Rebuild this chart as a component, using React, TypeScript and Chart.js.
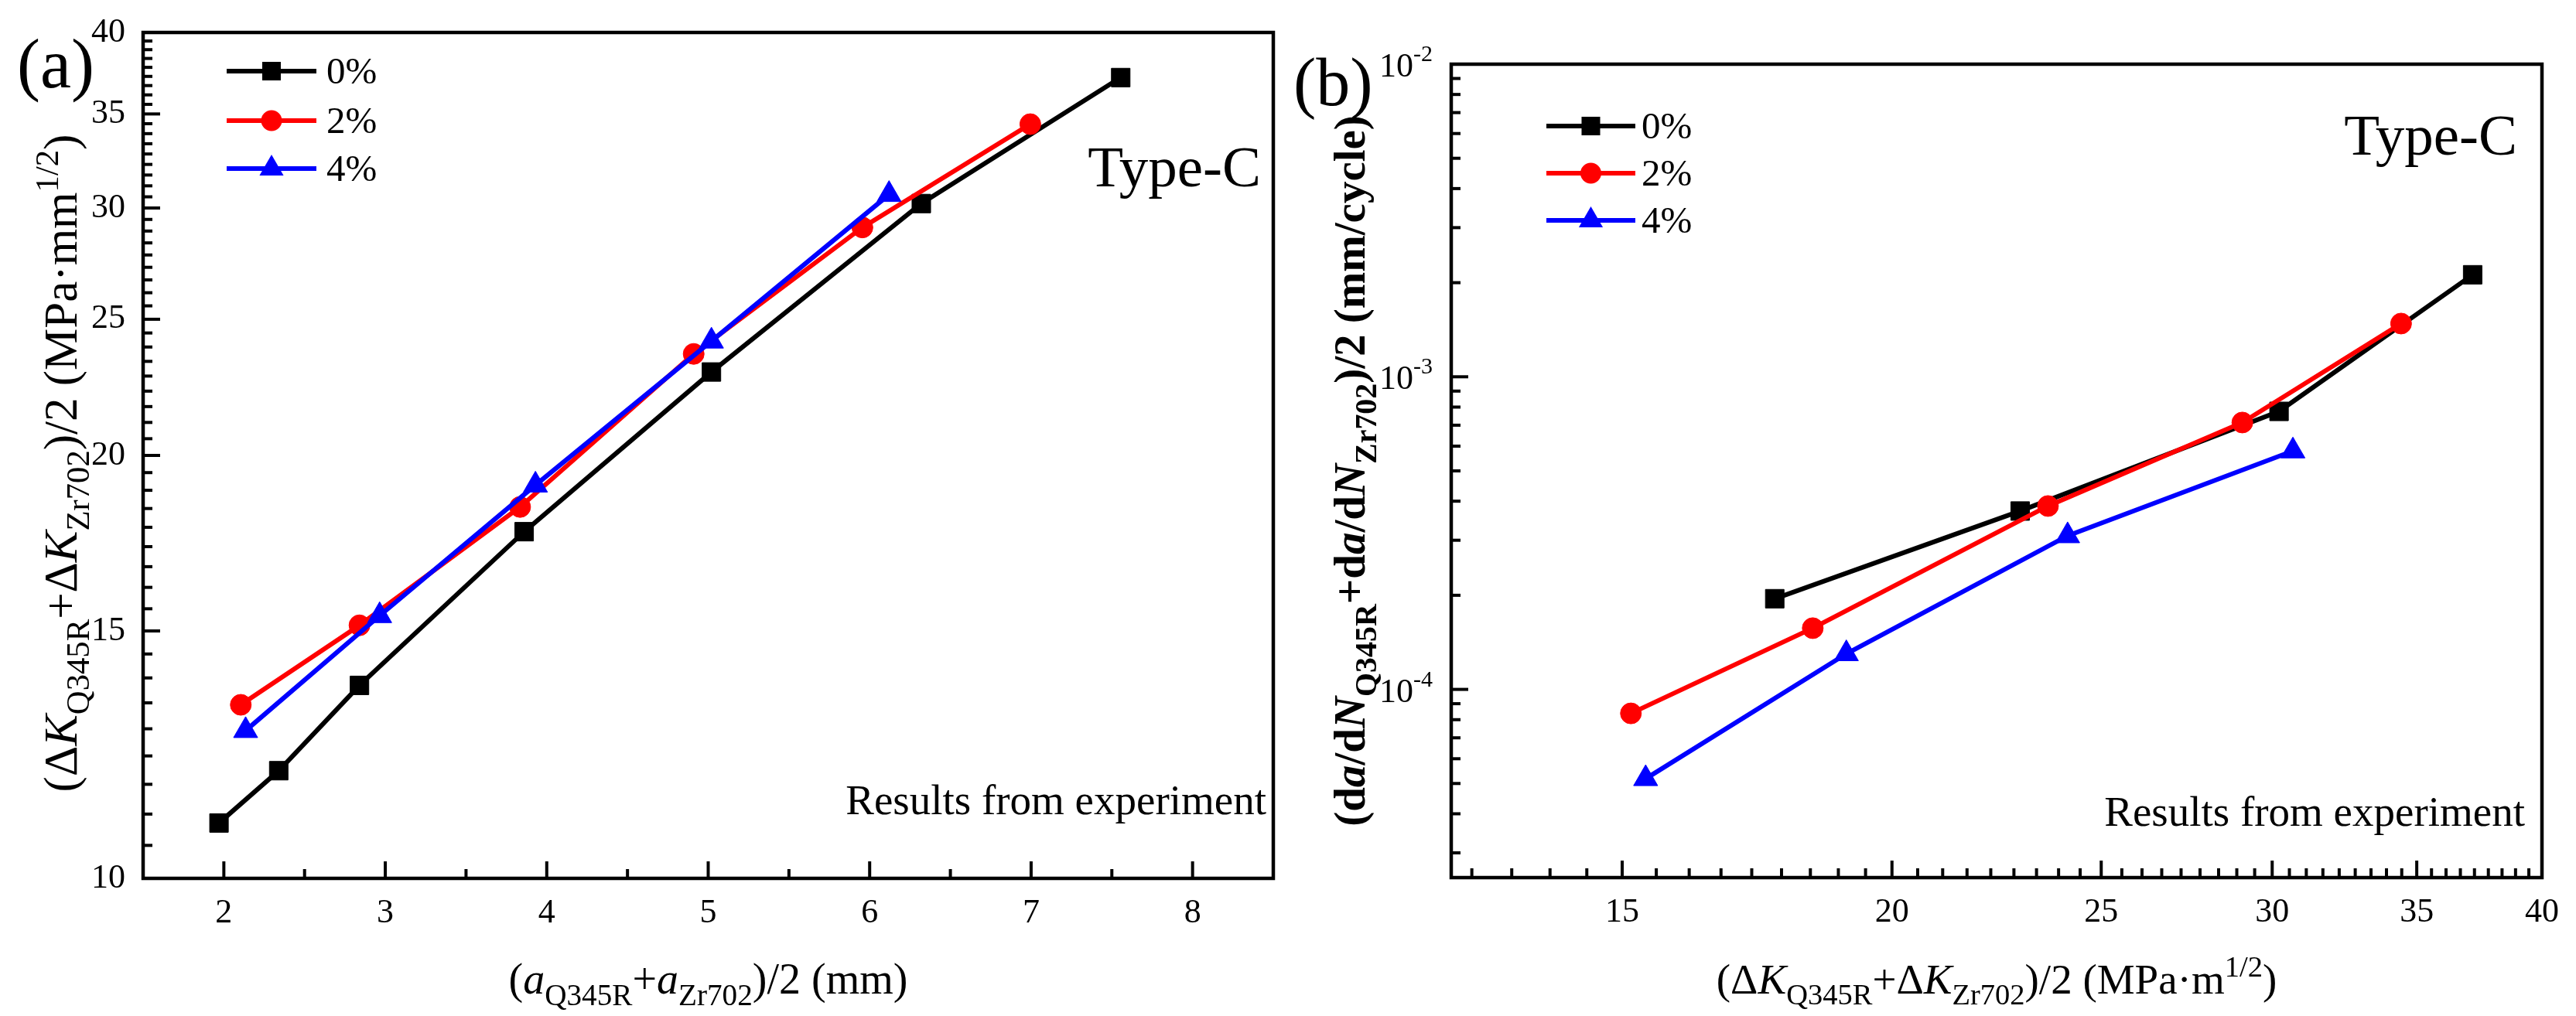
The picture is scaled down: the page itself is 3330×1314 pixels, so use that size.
import { useEffect, useRef } from "react";
import { Chart, registerables } from "chart.js";

Chart.register(...registerables);

const FONT = '"Liberation Serif", "Times New Roman", serif';

// ---------- series meta ----------
const seriesLabels = ["0%", "2%", "4%"];
const seriesColors = ["#000000", "#ff0000", "#0000ff"];
const seriesMarkers = ["rect", "circle", "triangle"];
const markerRadius = [17, 13.5, 18];

// ---------- panel (a): crack length vs. mean ΔK ----------
const aX0 = [1.97, 2.34, 2.84, 3.86, 5.02, 6.32, 7.555];
const aY0 = [10.95, 11.93, 13.72, 17.65, 22.93, 30.22, 37.15];
const aX2 = [2.105, 2.84, 3.835, 4.91, 5.955, 6.995];
const aY2 = [13.29, 15.14, 18.38, 23.62, 29.06, 34.42];
const aX4 = [2.135, 2.965, 3.93, 5.02, 6.12];
const aY4 = [12.74, 15.38, 19.05, 24.12, 30.67];

// ---------- panel (b): mean ΔK vs. mean da/dN ----------
const bX0 = [17.65, 22.93, 30.22, 37.15];
const bY0 = [1.95e-4, 3.72e-4, 7.75e-4, 2.12e-3];
const bX2 = [15.14, 18.38, 23.62, 29.06, 34.42];
const bY2 = [8.38e-5, 1.57e-4, 3.86e-4, 7.14e-4, 1.48e-3];
const bX4 = [15.38, 19.05, 24.12, 30.67];
const bY4 = [5.18e-5, 1.3e-4, 3.1e-4, 5.79e-4];

// ---------- axes ----------
const aXRange = [1.5, 8.5];
const aYRange = [10, 40];
const bXRange = [12.5, 40];
const bYRange = [2.5e-5, 1e-2];
const aXTickLabels = [2, 3, 4, 5, 6, 7, 8];
const aXMinorTicks = [2.5, 3.5, 4.5, 5.5, 6.5, 7.5];
const aYTickLabels = [10, 15, 20, 25, 30, 35, 40];
const bXTickLabels = [15, 20, 25, 30, 35, 40];
const bYTickExponents = [-4, -3, -2];

// Origin-style minor ticks: 8 minors between labelled ticks 5 apart
function ninthMinors(lo: number, hi: number): number[] {
  const out: number[] = [];
  for (let k = 0; k < 100; k++) {
    if (k % 9 === 0) continue;
    const v = 10 + (k * 5) / 9;
    if (v > lo + 1e-6 && v < hi - 1e-6) out.push(v);
  }
  return out;
}
function logMinors(lo: number, hi: number): number[] {
  const out: number[] = [];
  for (let e = -6; e <= -2; e++) {
    for (let m = 2; m <= 9; m++) {
      const v = m * Math.pow(10, e);
      if (v > lo * 1.0001 && v < hi * 0.9999) out.push(v);
    }
  }
  return out;
}

type Seg = { t: string; it?: boolean; sub?: boolean; sup?: boolean };

function segFont(s: Seg, size: number, bold: boolean) {
  const sz = s.sub || s.sup ? size * 0.7 : size;
  return `${s.it ? "italic " : ""}${bold ? "bold " : ""}${sz}px ${FONT}`;
}

function drawRich(
  ctx: CanvasRenderingContext2D,
  segs: Seg[],
  cx: number,
  cy: number,
  size: number,
  bold: boolean,
  rotate: boolean
) {
  ctx.save();
  ctx.translate(cx, cy);
  if (rotate) ctx.rotate(-Math.PI / 2);
  let total = 0;
  for (const s of segs) {
    ctx.font = segFont(s, size, bold);
    total += ctx.measureText(s.t).width;
  }
  let x = -total / 2;
  ctx.textAlign = "left";
  ctx.textBaseline = "alphabetic";
  ctx.fillStyle = "#000";
  for (const s of segs) {
    ctx.font = segFont(s, size, bold);
    const dy = s.sub ? size * 0.26 : s.sup ? -size * 0.4 : 0;
    ctx.fillText(s.t, x, dy);
    x += ctx.measureText(s.t).width;
  }
  ctx.restore();
}

const aXTitle: Seg[] = [
  { t: "(" },
  { t: "a", it: true },
  { t: "Q345R", sub: true },
  { t: "+" },
  { t: "a", it: true },
  { t: "Zr702", sub: true },
  { t: ")/2 (mm)" },
];
const aYTitle: Seg[] = [
  { t: "(Δ" },
  { t: "K", it: true },
  { t: "Q345R", sub: true },
  { t: "+Δ" },
  { t: "K", it: true },
  { t: "Zr702", sub: true },
  { t: ")/2 (MPa·mm" },
  { t: "1/2", sup: true },
  { t: ")" },
];
const bXTitle: Seg[] = [
  { t: "(Δ" },
  { t: "K", it: true },
  { t: "Q345R", sub: true },
  { t: "+Δ" },
  { t: "K", it: true },
  { t: "Zr702", sub: true },
  { t: ")/2 (MPa·m" },
  { t: "1/2", sup: true },
  { t: ")" },
];
const bYTitle: Seg[] = [
  { t: "(d" },
  { t: "a", it: true },
  { t: "/d" },
  { t: "N", it: true },
  { t: "Q345R", sub: true },
  { t: "+d" },
  { t: "a", it: true },
  { t: "/d" },
  { t: "N", it: true },
  { t: "Zr702", sub: true },
  { t: ")/2 (mm/cycle)" },
];

type Deco = {
  key: string;
  panelLabel: string;
  panelLabelX: number;
  panelLabelY: number;
  panelLabelSize: number;
  typeRight: number;
  typeBaseline: number;
  resultsRight: number;
  resultsBaseline: number;
  legendX0: number;
  legendX1: number;
  legendTextX: number;
  legendRows: number[];
  xTitle: Seg[];
  xTitleBaseline: number;
  xTitleSize: number;
  yTitle: Seg[];
  yTitleBaselineX: number;
  yTitleShift: number;
  yTitleSize: number;
  yTitleBold: boolean;
  xMajor: number[];
  xMinor: number[];
  yMajor: number[];
  yMinor: number[];
  powerLabels: boolean;
};

function drawMarker(ctx: CanvasRenderingContext2D, style: string, x: number, y: number, r: number) {
  ctx.beginPath();
  if (style === "rect") {
    const s = Math.SQRT1_2 * r;
    ctx.rect(x - s, y - s, 2 * s, 2 * s);
  } else if (style === "circle") {
    ctx.arc(x, y, r, 0, Math.PI * 2);
  } else {
    ctx.moveTo(x, y - r);
    ctx.lineTo(x + r * Math.sin((2 * Math.PI) / 3), y - r * Math.cos((2 * Math.PI) / 3));
    ctx.lineTo(x + r * Math.sin((4 * Math.PI) / 3), y - r * Math.cos((4 * Math.PI) / 3));
    ctx.closePath();
  }
  ctx.fill();
}

function makeDecoPlugin(d: Deco) {
  return {
    id: "deco" + d.key,
    afterDraw(chart: any) {
      const ctx: CanvasRenderingContext2D = chart.ctx;
      const ca = chart.chartArea;
      const xs = chart.scales.x;
      const ys = chart.scales.y;
      ctx.save();
      ctx.strokeStyle = "#000";
      ctx.fillStyle = "#000";
      ctx.lineCap = "butt";

      // inward tick marks on bottom and left axes
      ctx.lineWidth = 4;
      const xTick = (v: number, len: number) => {
        const px = xs.getPixelForValue(v);
        ctx.beginPath();
        ctx.moveTo(px, ca.bottom);
        ctx.lineTo(px, ca.bottom - len);
        ctx.stroke();
      };
      const yTick = (v: number, len: number) => {
        const py = ys.getPixelForValue(v);
        ctx.beginPath();
        ctx.moveTo(ca.left, py);
        ctx.lineTo(ca.left + len, py);
        ctx.stroke();
      };
      d.xMajor.forEach((v) => xTick(v, 22));
      d.xMinor.forEach((v) => xTick(v, 12));
      d.yMajor.forEach((v) => yTick(v, 22));
      d.yMinor.forEach((v) => yTick(v, 12));

      // frame
      ctx.lineWidth = 4.5;
      ctx.strokeRect(ca.left, ca.top, ca.right - ca.left, ca.bottom - ca.top);

      // power-of-ten tick labels
      if (d.powerLabels) {
        for (const e of bYTickExponents) {
          const py = ys.getPixelForValue(Math.pow(10, e));
          ctx.font = `44px ${FONT}`;
          const w1 = ctx.measureText("10").width;
          ctx.font = `30px ${FONT}`;
          const sup = String(e);
          const w2 = ctx.measureText(sup).width;
          const xr = ca.left - 24;
          ctx.textAlign = "left";
          ctx.textBaseline = "alphabetic";
          ctx.font = `44px ${FONT}`;
          ctx.fillText("10", xr - w2 - w1, py + 16);
          ctx.font = `30px ${FONT}`;
          ctx.fillText(sup, xr - w2, py - 4);
        }
      }

      // legend
      chart.data.datasets.forEach((ds: any, i: number) => {
        const y = d.legendRows[i];
        ctx.strokeStyle = ds.borderColor;
        ctx.fillStyle = ds.borderColor;
        ctx.lineWidth = 6;
        ctx.beginPath();
        ctx.moveTo(d.legendX0, y);
        ctx.lineTo(d.legendX1, y);
        ctx.stroke();
        drawMarker(ctx, ds.pointStyle, (d.legendX0 + d.legendX1) / 2, y, ds.pointRadius);
        ctx.fillStyle = "#000";
        ctx.font = `49px ${FONT}`;
        ctx.textAlign = "left";
        ctx.textBaseline = "alphabetic";
        ctx.fillText(ds.label, d.legendTextX, y + 16);
      });

      // panel label and annotations
      ctx.fillStyle = "#000";
      ctx.textBaseline = "alphabetic";
      ctx.textAlign = "left";
      ctx.font = `${d.panelLabelSize}px ${FONT}`;
      ctx.fillText(d.panelLabel, d.panelLabelX, d.panelLabelY);
      ctx.textAlign = "right";
      ctx.font = `75px ${FONT}`;
      ctx.fillText("Type-C", d.typeRight, d.typeBaseline);
      ctx.font = `55px ${FONT}`;
      ctx.fillText("Results from experiment", d.resultsRight, d.resultsBaseline);

      // axis titles
      drawRich(ctx, d.xTitle, (ca.left + ca.right) / 2, d.xTitleBaseline, d.xTitleSize, false, false);
      drawRich(
        ctx,
        d.yTitle,
        d.yTitleBaselineX,
        (ca.top + ca.bottom) / 2 + d.yTitleShift,
        d.yTitleSize,
        d.yTitleBold,
        true
      );

      ctx.restore();
    },
  };
}

function makeDatasets(xsArr: number[][], ysArr: number[][]) {
  return xsArr.map((xv, i) => ({
    label: seriesLabels[i],
    data: xv.map((x, j) => ({ x, y: ysArr[i][j] })),
    borderColor: seriesColors[i],
    backgroundColor: seriesColors[i],
    pointBackgroundColor: seriesColors[i],
    pointBorderColor: seriesColors[i],
    pointBorderWidth: 1,
    pointStyle: seriesMarkers[i],
    pointRadius: markerRadius[i],
    borderWidth: 6,
    tension: 0,
    showLine: true,
    order: 2 - i,
  }));
}

function buildConfig(opts: {
  datasets: any[];
  xType: string;
  yType: string;
  xRange: number[];
  yRange: number[];
  xTicks: number[];
  yTicks: number[];
  yLabels: boolean;
  yAxisWidth: number;
  xAxisHeight: number;
  padTop: number;
  padRight: number;
  deco: Deco;
}) {
  const tickFont = { family: FONT, size: 44 };
  return {
    type: "scatter" as const,
    data: { datasets: opts.datasets },
    plugins: [makeDecoPlugin(opts.deco)],
    options: {
      animation: false as const,
      responsive: false,
      devicePixelRatio: 1,
      events: [],
      layout: { padding: { left: 0, top: opts.padTop, right: opts.padRight, bottom: 0 } },
      plugins: { legend: { display: false }, tooltip: { enabled: false } },
      scales: {
        x: {
          type: opts.xType,
          position: "bottom",
          min: opts.xRange[0],
          max: opts.xRange[1],
          grid: { display: false, drawTicks: false },
          border: { display: false },
          ticks: {
            font: tickFont,
            color: "#000",
            padding: 19,
            autoSkip: false,
            maxRotation: 0,
            callback: (v: any) => String(v),
          },
          afterBuildTicks: (s: any) => {
            s.ticks = opts.xTicks.map((v) => ({ value: v }));
          },
          afterFit: (s: any) => {
            s.height = opts.xAxisHeight;
            s.paddingLeft = 0;
            s.paddingRight = 0;
            s.paddingTop = 0;
            s.paddingBottom = 0;
          },
        },
        y: {
          type: opts.yType,
          position: "left",
          min: opts.yRange[0],
          max: opts.yRange[1],
          grid: { display: false, drawTicks: false },
          border: { display: false },
          ticks: {
            display: opts.yLabels,
            font: tickFont,
            color: "#000",
            padding: 23,
            autoSkip: false,
            callback: (v: any) => String(v),
          },
          afterBuildTicks: (s: any) => {
            s.ticks = opts.yTicks.map((v) => ({ value: v }));
          },
          afterFit: (s: any) => {
            s.width = opts.yAxisWidth;
            s.paddingLeft = 0;
            s.paddingRight = 0;
            s.paddingTop = 0;
            s.paddingBottom = 0;
          },
        },
      },
    },
  };
}

const PANEL_W = 1665;
const PANEL_H = 1314;

export default function App() {
  const refA = useRef<HTMLCanvasElement>(null);
  const refB = useRef<HTMLCanvasElement>(null);

  useEffect(() => {
    const decoA: Deco = {
      key: "A",
      panelLabel: "(a)",
      panelLabelX: 22,
      panelLabelY: 113,
      panelLabelSize: 90,
      typeRight: 1630,
      typeBaseline: 241,
      resultsRight: 1637,
      resultsBaseline: 1053,
      legendX0: 293,
      legendX1: 409,
      legendTextX: 422,
      legendRows: [92, 156, 218],
      xTitle: aXTitle,
      xTitleBaseline: 1285,
      xTitleSize: 56,
      yTitle: aYTitle,
      yTitleBaselineX: 99,
      yTitleShift: 10,
      yTitleSize: 61,
      yTitleBold: false,
      xMajor: aXTickLabels,
      xMinor: aXMinorTicks,
      yMajor: aYTickLabels,
      yMinor: ninthMinors(aYRange[0], aYRange[1]),
      powerLabels: false,
    };
    const decoB: Deco = {
      key: "B",
      panelLabel: "(b)",
      panelLabelX: 7,
      panelLabelY: 136,
      panelLabelSize: 88,
      typeRight: 1589,
      typeBaseline: 200,
      resultsRight: 1599,
      resultsBaseline: 1068,
      legendX0: 334,
      legendX1: 449,
      legendTextX: 457,
      legendRows: [163, 224, 285],
      xTitle: bXTitle,
      xTitleBaseline: 1285,
      xTitleSize: 55,
      yTitle: bYTitle,
      yTitleBaselineX: 99,
      yTitleShift: 0,
      yTitleSize: 57,
      yTitleBold: true,
      xMajor: bXTickLabels,
      xMinor: ninthMinors(bXRange[0], bXRange[1]),
      yMajor: bYTickExponents.map((e) => Math.pow(10, e)),
      yMinor: logMinors(bYRange[0], bYRange[1]),
      powerLabels: true,
    };

    const chartA = new Chart(
      refA.current as HTMLCanvasElement,
      buildConfig({
        datasets: makeDatasets([aX0, aX2, aX4], [aY0, aY2, aY4]),
        xType: "linear",
        yType: "logarithmic",
        xRange: aXRange,
        yRange: aYRange,
        xTicks: aXTickLabels,
        yTicks: aYTickLabels,
        yLabels: true,
        yAxisWidth: 185,
        xAxisHeight: PANEL_H - 1136,
        padTop: 42,
        padRight: PANEL_W - 1657,
        deco: decoA,
      }) as any
    );
    const chartB = new Chart(
      refB.current as HTMLCanvasElement,
      buildConfig({
        datasets: makeDatasets([bX0, bX2, bX4], [bY0, bY2, bY4]),
        xType: "logarithmic",
        yType: "logarithmic",
        xRange: bXRange,
        yRange: bYRange,
        xTicks: bXTickLabels,
        yTicks: bYTickExponents.map((e) => Math.pow(10, e)),
        yLabels: false,
        yAxisWidth: 1876 - PANEL_W,
        xAxisHeight: PANEL_H - 1135,
        padTop: 83,
        padRight: PANEL_W - (3286 - PANEL_W),
        deco: decoB,
      }) as any
    );
    return () => {
      chartA.destroy();
      chartB.destroy();
    };
  }, []);

  return (
    <div
      style={{
        position: "absolute",
        left: 0,
        top: 0,
        width: PANEL_W * 2,
        height: PANEL_H,
        background: "#ffffff",
        overflow: "hidden",
      }}
    >
      <canvas
        ref={refA}
        width={PANEL_W}
        height={PANEL_H}
        style={{ position: "absolute", left: 0, top: 0, width: PANEL_W, height: PANEL_H }}
      />
      <canvas
        ref={refB}
        width={PANEL_W}
        height={PANEL_H}
        style={{ position: "absolute", left: PANEL_W, top: 0, width: PANEL_W, height: PANEL_H }}
      />
    </div>
  );
}
